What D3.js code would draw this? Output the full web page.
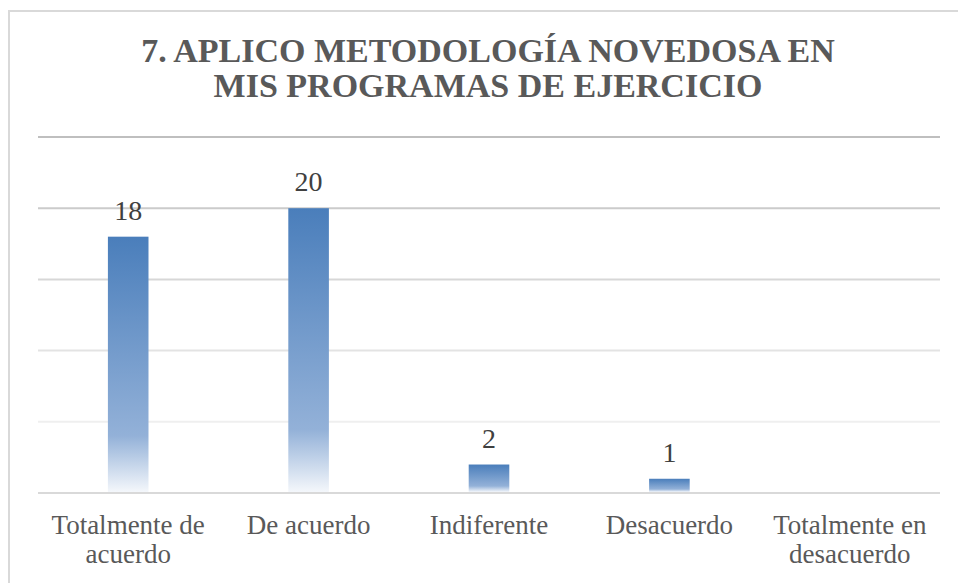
<!DOCTYPE html>
<html>
<head>
<meta charset="utf-8">
<script src="https://cdn.jsdelivr.net/npm/d3@7"></script>
</head>
<body style="margin:0">
<div id="chart"></div>
<script>
// chart data
const titleLines = ['7. APLICO METODOLOGÍA NOVEDOSA EN', 'MIS PROGRAMAS DE EJERCICIO'];
const categories = [
    ['Totalmente de', 'acuerdo'],
    ['De acuerdo'],
    ['Indiferente'],
    ['Desacuerdo'],
    ['Totalmente en', 'desacuerdo']
];
const values = [18, 20, 2, 1, null];
const gridTicks = [0, 5, 10, 15, 20, 25];

const width = 958, height = 583;
const margin = { top: 137, right: 18, bottom: 90, left: 38 };
const innerWidth = width - margin.left - margin.right;
const innerHeight = height - margin.top - margin.bottom;
const serif = "'Liberation Serif', 'Times New Roman', serif";

const svg = d3.select('#chart')
    .append('svg')
    .attr('width', width)
    .attr('height', height)
    .style('display', 'block');

// gradient used by every bar
const grad = svg.append('defs').append('linearGradient')
    .attr('id', 'barFill')
    .attr('x1', 0).attr('y1', 0).attr('x2', 0).attr('y2', 1);
grad.append('stop').attr('offset', '0%').attr('stop-color', '#4a7ebb');
grad.append('stop').attr('offset', '78%').attr('stop-color', '#93b1d8');
grad.append('stop').attr('offset', '100%').attr('stop-color', '#f4f7fb');

// chart area border (right and bottom edges run off the picture)
svg.append('path')
    .attr('d', `M9,${height} V11 H${width}`)
    .attr('fill', 'none')
    .attr('stroke', '#d9d9d9')
    .attr('stroke-width', 2);

// title, one text per line
svg.selectAll('.title')
    .data(titleLines)
    .enter()
    .append('text')
    .attr('class', 'title')
    .attr('x', 488)
    .attr('y', (d, i) => 62 + i * 35)
    .attr('text-anchor', 'middle')
    .style('font-family', serif)
    .style('font-weight', 'bold')
    .style('font-size', '34px')
    .style('fill', '#595959')
    .text(d => d);

const g = svg.append('g')
    .attr('transform', `translate(${margin.left},${margin.top})`);

const xScale = d3.scaleBand()
    .domain(d3.range(categories.length))
    .range([0, innerWidth])
    .paddingInner(0.775)
    .paddingOuter(0.3875);

const yScale = d3.scaleLinear()
    .domain([0, 25])
    .range([innerHeight, 0]);

// grid lines (fade lower down like the original)
const gridColor = d3.scaleLinear()
    .domain([5, 25])
    .range(['#efefef', '#bfbfbf']);

g.append('g')
    .attr('class', 'grid')
    .selectAll('line')
    .data(gridTicks)
    .enter()
    .append('line')
    .attr('x1', 0)
    .attr('x2', innerWidth)
    .attr('y1', d => yScale(d))
    .attr('y2', d => yScale(d))
    .attr('stroke', d => d === 0 ? '#d9d9d9' : gridColor(d))
    .attr('stroke-width', 2);

// bars
const barData = values.map((v, i) => ({ i, v })).filter(d => d.v != null);

g.selectAll('.bar')
    .data(barData)
    .enter()
    .append('rect')
    .attr('class', 'bar')
    .attr('x', d => xScale(d.i))
    .attr('y', d => yScale(d.v))
    .attr('width', xScale.bandwidth())
    .attr('height', d => yScale(0) - yScale(d.v) - 1)
    .attr('fill', 'url(#barFill)');

// value labels
g.selectAll('.val')
    .data(barData)
    .enter()
    .append('text')
    .attr('class', 'val')
    .attr('x', d => xScale(d.i) + xScale.bandwidth() / 2)
    .attr('y', d => yScale(d.v) - 17)
    .attr('text-anchor', 'middle')
    .style('font-family', serif)
    .style('font-size', '28px')
    .style('fill', '#404040')
    .text(d => d.v);

// category labels, one text per line
const catLines = [];
categories.forEach((lines, i) => lines.forEach((t, j) => catLines.push({ i, j, t })));

g.selectAll('.cat')
    .data(catLines)
    .enter()
    .append('text')
    .attr('class', 'cat')
    .attr('x', d => xScale(d.i) + xScale.bandwidth() / 2)
    .attr('y', d => innerHeight + 41 + d.j * 29)
    .attr('text-anchor', 'middle')
    .style('font-family', serif)
    .style('font-size', '27px')
    .style('fill', '#595959')
    .text(d => d.t);
</script>
</body>
</html>
